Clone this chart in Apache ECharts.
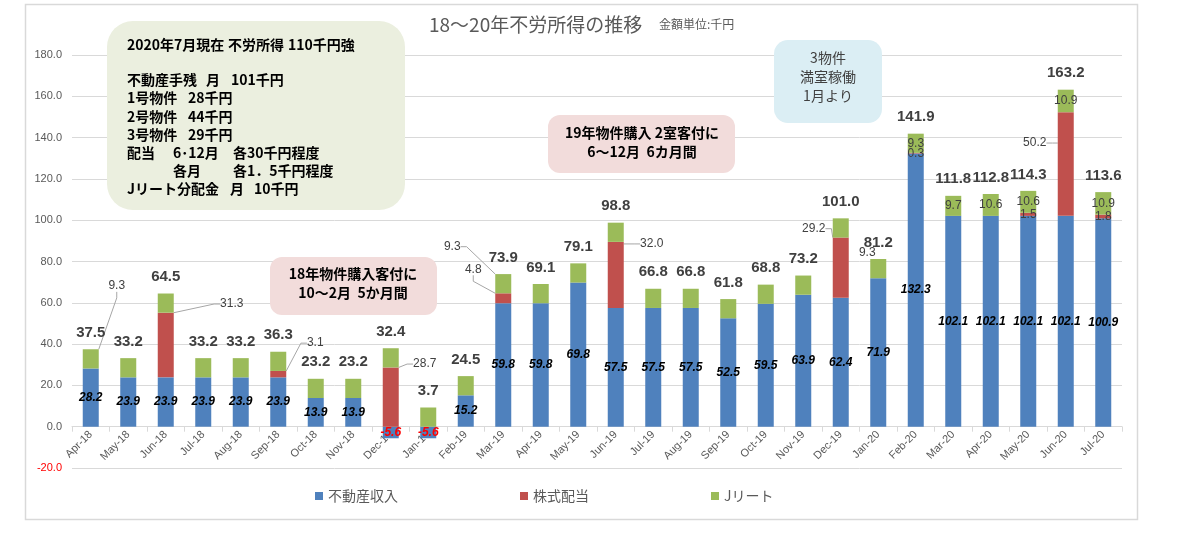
<!DOCTYPE html>
<html><head><meta charset="utf-8">
<script src="https://cdn.jsdelivr.net/npm/echarts@6/dist/echarts.min.js"></script>
<style>html,body{margin:0;padding:0;background:#fff}#c{width:1179px;height:538px}</style>
</head><body><div id="c"></div>
<script>
const categories = ['Apr-18','May-18','Jun-18','Jul-18','Aug-18','Sep-18','Oct-18','Nov-18','Dec-18','Jan-19','Feb-19','Mar-19','Apr-19','May-19','Jun-19','Jul-19','Aug-19','Sep-19','Oct-19','Nov-19','Dec-19','Jan-20','Feb-20','Mar-20','Apr-20','May-20','Jun-20','Jul-20'];
const realEstate = [28.2,23.9,23.9,23.9,23.9,23.9,13.9,13.9,-5.6,-5.6,15.2,59.8,59.8,69.8,57.5,57.5,57.5,52.5,59.5,63.9,62.4,71.9,132.3,102.1,102.1,102.1,102.1,100.9];
const dividends = [0,0,31.3,0,0,3.1,0,0,28.7,0,0,4.8,0,0,32.0,0,0,0,0,0,29.2,0,0.3,0,0,1.5,50.2,1.8];
const jreit = [9.3,9.3,9.3,9.3,9.3,9.3,9.3,9.3,9.3,9.3,9.3,9.3,9.3,9.3,9.3,9.3,9.3,9.3,9.3,9.3,9.3,9.3,9.3,9.7,10.6,10.6,10.9,10.9];
const totals = [37.5,33.2,64.5,33.2,33.2,36.3,23.2,23.2,32.4,3.7,24.5,73.9,69.1,79.1,98.8,66.8,66.8,61.8,68.8,73.2,101.0,81.2,141.9,111.8,112.8,114.3,163.2,113.6];
const seriesNames = ['不動産収入','株式配当','Jリート'];

// label placement (style only)
const redCallouts = {2:[66,-41],5:[37,-31],8:[34,-33],11:[-30,-29],14:[36,-31],20:[-27,-39],26:[-31,-21]};
const redInside = [22,25,27];
const greenCallouts = {0:[26,-73],11:[-51,-37]};
const greenNoLine = {21:[-11,-16]};
const greenInside = [22,23,24,25,26,27];

const F = "'Liberation Sans','Noto Sans CJK JP',sans-serif";
const J = "'Noto Sans CJK JP',sans-serif";

const chart = echarts.init(document.getElementById('c'));

const blueData = realEstate.map(v => ({value: v, label: {color: v < 0 ? '#FF0000' : '#000000'}}));
const redData = dividends.map((v, i) => ({
  value: v,
  label: {show: (i in redCallouts) || redInside.includes(i)},
  labelLine: {show: i in redCallouts}
}));
const greenData = jreit.map((v, i) => ({
  value: v,
  label: {show: (i in greenCallouts) || (i in greenNoLine) || greenInside.includes(i)},
  labelLine: {show: i in greenCallouts}
}));
const totalData = totals.map(() => 0);

function layoutFrom(map1, map2) {
  return function (p) {
    const o = map1[p.dataIndex] || (map2 && map2[p.dataIndex]);
    return o ? {dx: o[0], dy: o[1]} : {};
  };
}

const smallLabel = {fontFamily: F, fontSize: 12, color: '#404040', position: 'inside', formatter: p => p.value.toFixed(1)};
const lineStyle = {color: '#a6a6a6', width: 1};

function box(x, y, w, h, r, fill) {
  return {type: 'rect', z: 100, shape: {x: x, y: y, width: w, height: h, r: r}, style: {fill: fill}};
}
function txt(x, y, t, font, fill, align) {
  return {type: 'text', z: 101, x: x, y: y, style: {text: t, font: font, fill: fill || '#000', align: align || 'left', verticalAlign: 'middle'}};
}
const bf = "bold 14px " + J;

chart.setOption({
  animation: false,
  title: {
    left: 429, top: 15, padding: 0,
    text: '{a|18～20年不労所得の推移}{b|金額単位:千円}',
    textStyle: {fontWeight: 'normal', rich: {
      a: {fontFamily: J, fontSize: 19, fontWeight: 'normal', color: '#595959', width: 230},
      b: {fontFamily: J, fontSize: 12, fontWeight: 'normal', color: '#595959'}
    }}
  },
  legend: {
    data: seriesNames, left: 310, top: 484, icon: 'rect', itemWidth: 8, itemHeight: 8, itemGap: 122,
    textStyle: {fontFamily: J, fontSize: 14, color: '#595959'}
  },
  grid: {left: 72, right: 57, top: 55, bottom: 70},
  xAxis: {
    type: 'category', data: categories, offset: -41.3,
    axisLine: {onZero: false, lineStyle: {color: '#d9d9d9'}},
    axisTick: {show: true, length: 5, lineStyle: {color: '#d9d9d9'}},
    axisLabel: {rotate: 45, interval: 0, fontFamily: F, fontSize: 11, color: '#595959', margin: 6}
  },
  yAxis: {
    type: 'value', min: -20, max: 180, interval: 20,
    axisLine: {show: false}, axisTick: {show: false},
    splitLine: {lineStyle: {color: '#d9d9d9'}},
    axisLabel: {fontFamily: F, fontSize: 11, margin: 10, formatter: v => v.toFixed(1), color: v => (v < 0 ? '#FF0000' : '#595959')}
  },
  series: [
    {
      name: seriesNames[0], type: 'bar', stack: 's', barWidth: 16, data: blueData,
      itemStyle: {color: '#4F81BD'},
      label: {show: true, position: 'inside', fontFamily: F, fontSize: 12, fontStyle: 'italic', fontWeight: 'bold', formatter: p => p.value.toFixed(1)}
    },
    {
      name: seriesNames[1], type: 'bar', stack: 's', barWidth: 16, data: redData,
      itemStyle: {color: '#C0504D'},
      label: smallLabel,
      labelLine: {show: false, length2: 6, lineStyle: lineStyle},
      labelLayout: layoutFrom(redCallouts)
    },
    {
      name: seriesNames[2], type: 'bar', stack: 's', barWidth: 16, data: greenData,
      itemStyle: {color: '#9BBB59'},
      label: smallLabel,
      labelLine: {show: false, length2: 6, lineStyle: lineStyle},
      labelLayout: layoutFrom(greenCallouts, greenNoLine)
    },
    {
      name: 'total', type: 'bar', stack: 's', barWidth: 16, data: totalData,
      itemStyle: {color: 'rgba(0,0,0,0)'}, silent: true,
      label: {show: true, position: 'top', distance: 9, fontFamily: F, fontSize: 15, fontWeight: 'bold', color: '#404040', formatter: p => totals[p.dataIndex].toFixed(1)}
    }
  ],
  graphic: [
    {type: 'rect', z: 0, shape: {x: 25.5, y: 4.5, width: 1112, height: 515}, style: {fill: 'none', stroke: '#d9d9d9', lineWidth: 1.5}},
    box(107, 21, 298, 189, 26, '#EBEFDF'),
    txt(127, 45, '2020年7月現在', bf), txt(228, 45, '不労所得', bf), txt(288, 45, '110千円強', bf),
    txt(127, 80, '不動産手残', bf), txt(206, 80, '月', bf), txt(231, 80, '101千円', bf),
    txt(127, 98, '1号物件', bf), txt(188, 98, '28千円', bf),
    txt(127, 116.5, '2号物件', bf), txt(188, 116.5, '44千円', bf),
    txt(127, 134.5, '3号物件', bf), txt(188, 134.5, '29千円', bf),
    txt(127, 152.5, '配当', bf), txt(173, 152.5, '6･12月', bf), txt(233, 152.5, '各30千円程度', bf),
    txt(173, 171, '各月', bf), txt(233, 171, '各1．5千円程度', bf),
    txt(127, 189, 'Jリート分配金', bf), txt(230, 189, '月', bf), txt(254, 189, '10千円', bf),
    box(270, 257, 167, 58, 12, '#F2DCDB'),
    txt(353, 274, '18年物件購入客付に', bf, '#000', 'center'),
    txt(353, 293, '10～2月  5か月間', bf, '#000', 'center'),
    box(548, 115, 187, 58, 12, '#F2DCDB'),
    txt(642, 132.5, '19年物件購入 2室客付に', bf, '#000', 'center'),
    txt(642, 152, '6～12月  6カ月間', bf, '#000', 'center'),
    box(774, 40, 108, 83, 14, '#DBEEF4'),
    txt(828, 58, '3物件', "14px " + J, '#404040', 'center'),
    txt(828, 77, '満室稼働', "14px " + J, '#404040', 'center'),
    txt(828, 96, '1月より', "14px " + J, '#404040', 'center')
  ]
});
</script></body></html>
